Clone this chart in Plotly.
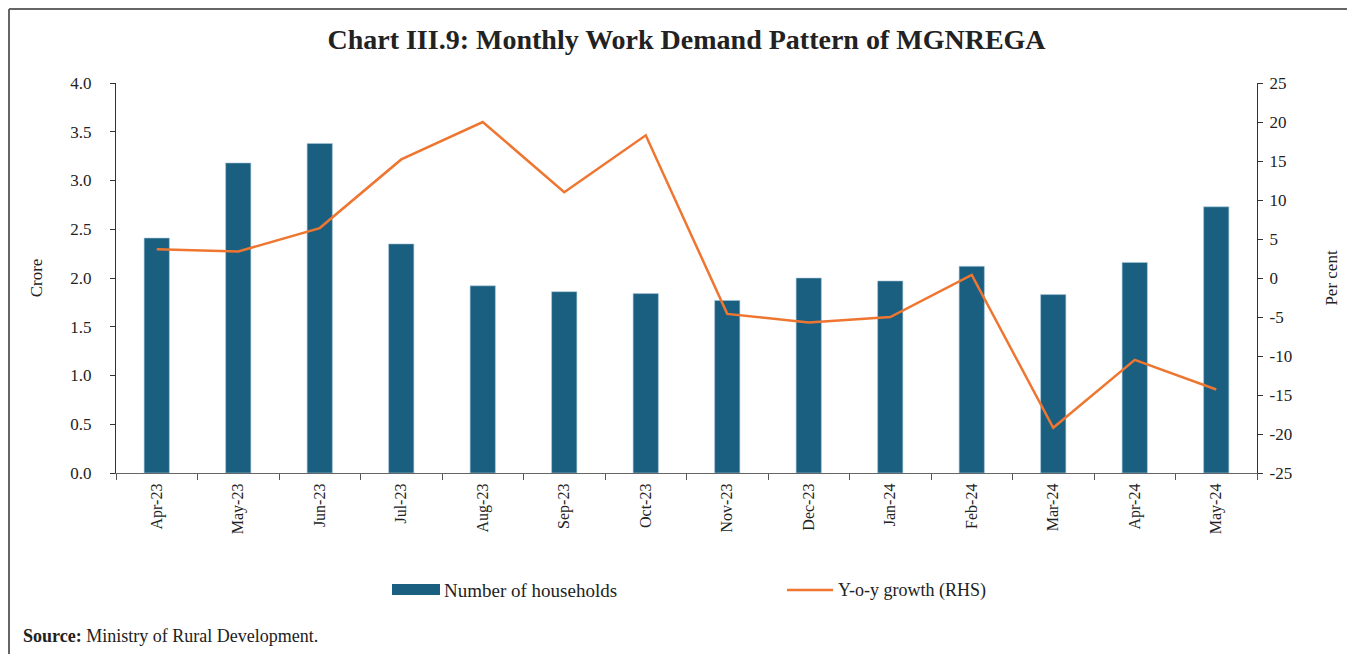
import plotly.graph_objects as go

months = ["Apr-23", "May-23", "Jun-23", "Jul-23", "Aug-23", "Sep-23", "Oct-23",
          "Nov-23", "Dec-23", "Jan-24", "Feb-24", "Mar-24", "Apr-24", "May-24"]
households = [2.41, 3.18, 3.38, 2.35, 1.92, 1.86, 1.84, 1.77, 2.00, 1.97, 2.12, 1.83, 2.16, 2.73]
yoy_growth = [3.7, 3.4, 6.4, 15.2, 20.0, 11.0, 18.3, -4.6, -5.7, -5.0, 0.4, -19.2, -10.5, -14.3]

left_ticks = [0, 0.5, 1, 1.5, 2, 2.5, 3, 3.5, 4]
right_ticks = [-25, -20, -15, -10, -5, 0, 5, 10, 15, 20, 25]

FONT = "Liberation Serif"
BAR_C = "#1b5f80"
LINE_C = "#ee7630"

OFF = 8  # page offset of the figure inside the window
W, H = 1355 - OFF, 654 - OFF
# target absolute plot area: x 116..1257, y 83..473
L = 116 - OFF
T = 83 - OFF
R = W - (1257 - OFF)
B = H - (473 - OFF)
pw, ph = W - L - R, H - T - B

def px(x):  # absolute screen x -> paper
    return (x - OFF - L) / pw

def py(y):  # absolute screen y -> paper
    return (H - B - (y - OFF)) / ph

fig = go.Figure()
fig.add_trace(go.Bar(x=months, y=households, name="Number of households",
                     marker=dict(color=BAR_C, line=dict(color="#a9cadb", width=0.6)),
                     width=0.31, showlegend=False))
fig.add_trace(go.Scatter(x=months, y=yoy_growth, name="Y-o-y growth (RHS)", yaxis="y2",
                         mode="lines", line=dict(color=LINE_C, width=2.5), showlegend=False))

fig.update_layout(
    width=W, height=H,
    margin=dict(l=L, r=R, t=T, b=B, autoexpand=False),
    paper_bgcolor="white", plot_bgcolor="white",
    font=dict(family=FONT, color="#222", size=15),
    title=dict(text="<b>Chart III.9: Monthly Work Demand Pattern of MGNREGA</b>",
               x=0.5, xref="paper", xanchor="center", y=1 - (39 - OFF) / H, yanchor="middle",
               font=dict(family=FONT, size=28, color="#222")),
    xaxis=dict(type="category", tickangle=-90, ticks="outside", ticklen=6, tickcolor="#555",
               tickson="boundaries", showline=True, linecolor="#666", linewidth=1.3,
               showgrid=False, tickfont=dict(size=16, color="#222"), ticklabelstandoff=3),
    yaxis=dict(range=[0, 4], tickvals=left_ticks, ticktext=[f"{v:.1f}" for v in left_ticks],
               ticks="outside", ticklen=5, tickcolor="#333", showline=True, linecolor="#333",
               linewidth=1.2, showgrid=False, zeroline=False, ticklabelstandoff=15,
               title=dict(text="Crore", font=dict(size=17), standoff=23),
               tickfont=dict(size=17, color="#222")),
    yaxis2=dict(range=[-25, 25], tickvals=right_ticks, ticktext=[str(v) for v in right_ticks],
                overlaying="y", side="right",
                ticks="outside", ticklen=5, tickcolor="#333", showline=True, linecolor="#333",
                linewidth=1.2, showgrid=False, zeroline=False, ticklabelstandoff=3,
                title=dict(text="Per cent", font=dict(size=17), standoff=33),
                tickfont=dict(size=17, color="#222")),
    bargap=0.69,
)

shapes = [
    dict(type="line", xref="paper", yref="paper", x0=px(9), x1=px(1360), y0=py(9), y1=py(9),
         line=dict(color="#666", width=2)),
    dict(type="line", xref="paper", yref="paper", x0=px(9), x1=px(9), y0=py(9), y1=py(660),
         line=dict(color="#666", width=2)),
    dict(type="rect", xref="paper", yref="paper", x0=px(392), x1=px(440), y0=py(595), y1=py(584),
         fillcolor=BAR_C, line=dict(width=0)),
    dict(type="line", xref="paper", yref="paper", x0=px(787), x1=px(833), y0=py(590), y1=py(590),
         line=dict(color=LINE_C, width=2.5)),
]
annotations = [
    dict(text="Number of households", xref="paper", yref="paper", x=px(442), y=py(590),
         xanchor="left", yanchor="middle", showarrow=False, font=dict(size=19, color="#222")),
    dict(text="Y-o-y growth (RHS)", xref="paper", yref="paper", x=px(836), y=py(590),
         xanchor="left", yanchor="middle", showarrow=False, font=dict(size=18, color="#222")),
    dict(text="<b>Source:</b> Ministry of Rural Development.", xref="paper", yref="paper",
         x=px(21), y=py(636), xanchor="left", yanchor="middle", showarrow=False,
         font=dict(size=18, color="#222")),
]
fig.update_layout(shapes=shapes, annotations=annotations)

fig.write_html("out.html")
